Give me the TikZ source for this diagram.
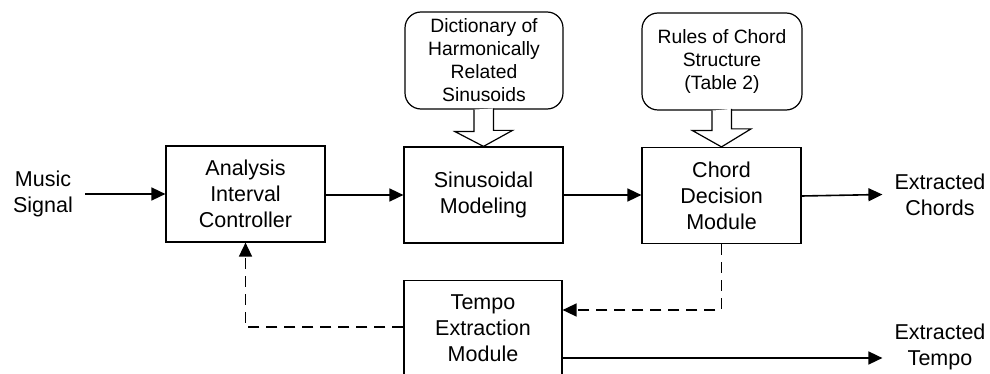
\documentclass[tikz,border=0pt]{standalone}
\usepackage{fontspec}
\setmainfont{Liberation Sans}
\usetikzlibrary{arrows.meta}
\begin{document}
\begin{tikzpicture}[x=1pt,y=-1pt,
  mainfont/.style={font=\fontsize{21.5}{26}\selectfont},
  topfont/.style={font=\fontsize{19.3}{23}\selectfont},
  box/.style={draw, line width=1.2pt, minimum width=159pt, minimum height=96pt, align=center, inner sep=0pt, mainfont},
  topbox/.style={draw, line width=1.2pt, rounded corners=16pt, minimum width=158pt, minimum height=97pt, align=center, inner sep=0pt, topfont},
  lbl/.style={align=center, inner sep=12pt, mainfont},
  conn/.style={line width=1.6pt, -{Triangle[length=14pt,width=13pt]}},
  dconn/.style={conn, dash pattern=on 11pt off 7pt},
  hollow/.style={draw, line width=1.2pt, fill=white, line join=miter}]
\useasboundingbox (0,0) rectangle (990,374);
\clip (0,0) rectangle (990,374);
\fill[white] (0,0) rectangle (990,374);

\node[box] (ana) at (245.5,194) {Analysis\\Interval\\Controller};
\node[box] (sin) at (483.5,195) {Sinusoidal\\Modeling};
\node[box] (cho) at (721.5,195.5) {Chord\\Decision\\Module};
\node[box, minimum width=158pt] (tem) at (483,328.5) {Tempo\\Extraction\\Module};
\node[topbox] (dic) at (484,60.5) {Dictionary of\\Harmonically\\Related\\Sinusoids};
\node[topbox, minimum width=160pt] (rul) at (722,61.5) {Rules of Chord\\Structure\\(Table 2)};

\node[lbl] (mus) at (43,194) {Music\\Signal};
\node[lbl] (exc) at (940,194.5) {Extracted\\Chords};
\node[lbl] (ext) at (940,347) {Extracted\\Tempo};

\draw[conn] (mus.east) -- (ana.west);
\draw[conn] ([yshift=-1pt]ana.east) -- (sin.west);
\draw[conn] (sin.east) -- (sin.east -| cho.west);
\draw[conn] ([yshift=-0.5pt]cho.east) -- (exc.west);
\draw[dconn] (cho.south) |- ([yshift=18.5pt]tem.east);
\draw[dconn] ([yshift=1.5pt]tem.west) -| (ana.south);
\draw[conn] ([yshift=-29.5pt]tem.east) -- ([yshift=-11pt]ext.west);

\draw[hollow] (dic.south) ++(-10,0) -- ++(0,22) -- ++(-19,0) -- (sin.north) -- ++(29,-16) -- ++(-19,0) -- ++(0,-22);
\draw[hollow] (rul.south) ++(-10,0) -- ++(0,20) -- ++(-19.5,0) -- (cho.north) -- ++(29.5,-18) -- ++(-19.5,0) -- ++(0,-20);
\end{tikzpicture}
\end{document}
